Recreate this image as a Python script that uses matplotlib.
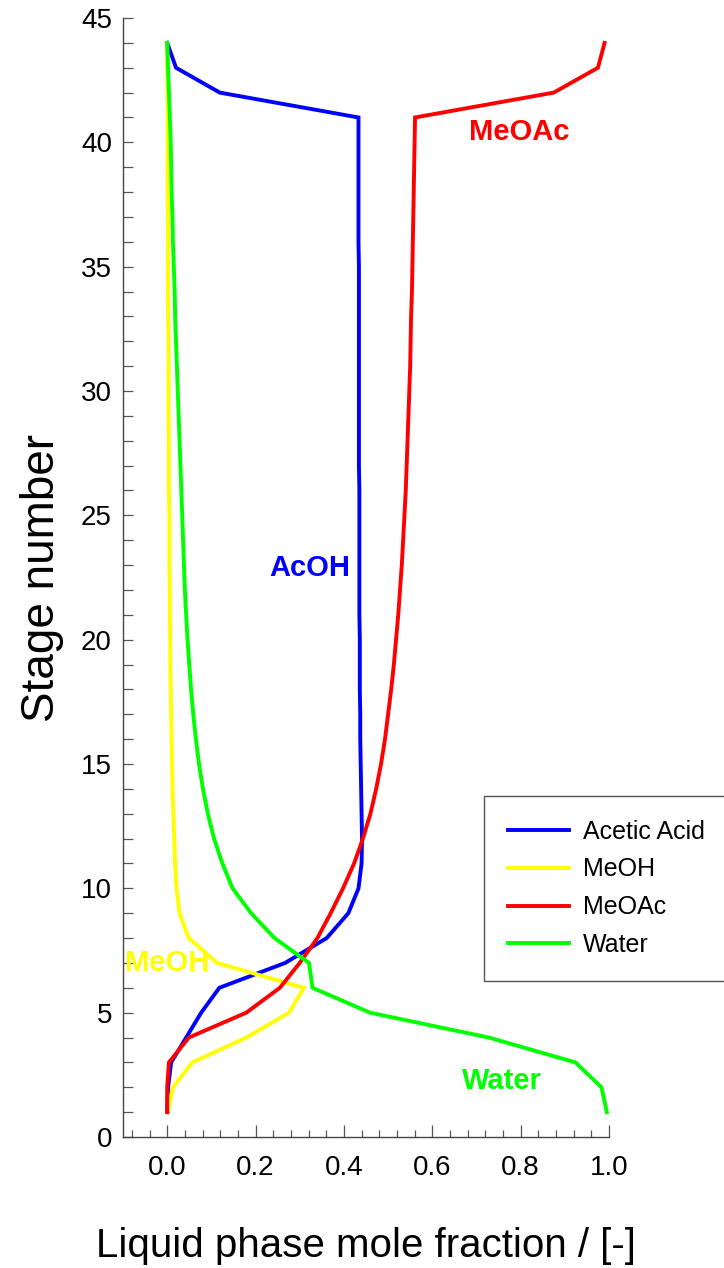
import matplotlib
matplotlib.use("Agg")
import matplotlib.pyplot as plt
from matplotlib.ticker import MultipleLocator
import numpy as np

plt.rcParams['font.family'] = ['Liberation Sans', 'DejaVu Sans']

stages = list(range(1, 45))

acetic_acid = [0.000, 0.002, 0.009, 0.043, 0.077, 0.118, 0.267, 0.361, 0.410, 0.433,
               0.440, 0.441, 0.440, 0.439, 0.438, 0.437, 0.437, 0.436, 0.436, 0.436,
               0.435, 0.435, 0.435, 0.435, 0.435, 0.435, 0.434, 0.434, 0.434, 0.434,
               0.434, 0.434, 0.434, 0.434, 0.434, 0.433, 0.433, 0.433, 0.433, 0.433,
               0.433, 0.119, 0.020, 0.000]

meoh = [0.001, 0.013, 0.057, 0.179, 0.276, 0.309, 0.113, 0.049, 0.028, 0.021,
        0.018, 0.016, 0.014, 0.012, 0.011, 0.010, 0.009, 0.008, 0.007, 0.007,
        0.006, 0.006, 0.005, 0.005, 0.005, 0.004, 0.004, 0.004, 0.003, 0.003,
        0.003, 0.003, 0.002, 0.002, 0.002, 0.002, 0.002, 0.001, 0.001, 0.001,
        0.001, 0.001, 0.000, 0.000]

meoac = [0.000, 0.000, 0.004, 0.049, 0.179, 0.255, 0.300, 0.340, 0.370, 0.398,
         0.423, 0.443, 0.460, 0.473, 0.484, 0.493, 0.500, 0.507, 0.513, 0.518,
         0.523, 0.527, 0.531, 0.534, 0.537, 0.540, 0.542, 0.544, 0.546, 0.548,
         0.550, 0.551, 0.552, 0.554, 0.555, 0.556, 0.557, 0.558, 0.559, 0.560,
         0.561, 0.875, 0.975, 0.990]

water = [0.995, 0.983, 0.924, 0.728, 0.459, 0.329, 0.321, 0.243, 0.190, 0.148,
         0.125, 0.106, 0.092, 0.081, 0.072, 0.065, 0.059, 0.054, 0.050, 0.046,
         0.043, 0.040, 0.038, 0.036, 0.034, 0.032, 0.030, 0.028, 0.026, 0.024,
         0.022, 0.020, 0.018, 0.017, 0.015, 0.013, 0.012, 0.010, 0.009, 0.008,
         0.006, 0.004, 0.002, 0.000]

series_names = ["Acetic Acid", "MeOH", "MeOAc", "Water"]
series_colors = ["#0000FF", "#FFFF00", "#FF0000", "#00FF00"]

fig = plt.figure(figsize=(7.24, 12.68), dpi=100)
ax = fig.add_axes([123/724, 1 - 1137/1268, (609 - 123)/724, (1137 - 18)/1268])

for vals, name, col in zip([acetic_acid, meoh, meoac, water], series_names, series_colors):
    ax.plot(vals, stages, color=col, lw=2.8, label=name, solid_joinstyle='miter')

ax.set_xlim(-0.1, 1.0)
ax.set_ylim(0, 45)

for s in ['top', 'right']:
    ax.spines[s].set_visible(False)
for s in ['left', 'bottom']:
    ax.spines[s].set_color('#444444')
    ax.spines[s].set_linewidth(1.0)

ax.xaxis.set_major_locator(MultipleLocator(0.2))
ax.xaxis.set_minor_locator(MultipleLocator(0.04))
ax.yaxis.set_major_locator(MultipleLocator(5))
ax.yaxis.set_minor_locator(MultipleLocator(1))
ax.xaxis.set_major_formatter(matplotlib.ticker.FormatStrFormatter('%.1f'))

ax.tick_params(axis='x', which='major', direction='in', length=9, width=0.9, color='#555555',
               labelsize=20, pad=13)
ax.tick_params(axis='x', which='minor', direction='in', length=5, width=0.9, color='#555555')
ax.tick_params(axis='y', which='both', direction='in', length=7.5, width=0.9, color='#555555',
               labelsize=20, pad=8)

ax.set_xlabel("Liquid phase mole fraction / [-]", fontsize=29, labelpad=33)
ax.set_ylabel("Stage number", fontsize=33, labelpad=12)

ax.text(0.323, 22.9, "AcOH", color="#0000FF", fontsize=21, fontweight='bold', ha='center', va='center')
ax.text(0.797, 40.4, "MeOAc", color="#FF0000", fontsize=21, fontweight='bold', ha='center', va='center')
ax.text(0.0, 7.0, "MeOH", color="#FFFF00", fontsize=21, fontweight='bold', ha='center', va='center')
ax.text(0.757, 2.25, "Water", color="#00FF00", fontsize=21, fontweight='bold', ha='center', va='center')

leg = ax.legend(loc='upper left', bbox_to_anchor=(484/724, 1 - 796/1268),
                bbox_transform=fig.transFigure, fontsize=18, frameon=True, fancybox=False,
                handlelength=2.45, handletextpad=0.55, labelspacing=0.55, borderpad=0.95,
                borderaxespad=0)
leg.get_frame().set_edgecolor('#555555')
leg.get_frame().set_linewidth(1.0)
leg.get_frame().set_alpha(1.0)
for l in leg.get_lines():
    l.set_linewidth(2.8)

fig.savefig("out.png", dpi=100)
